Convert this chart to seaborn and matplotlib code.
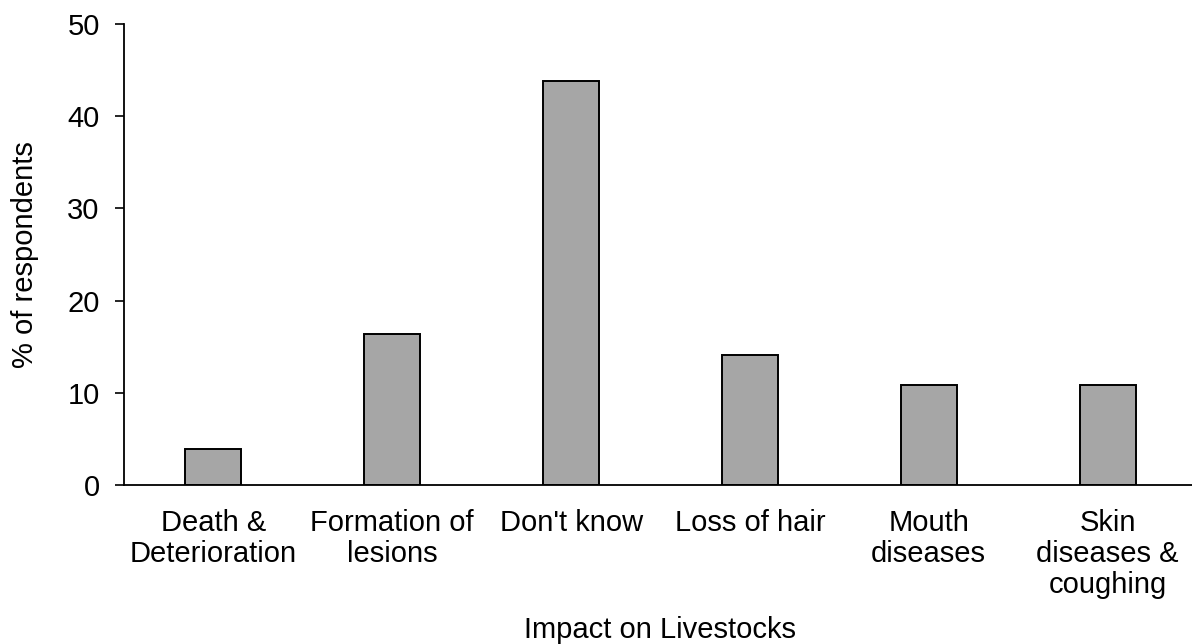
import numpy as np
import matplotlib
matplotlib.use("Agg")
import matplotlib.pyplot as plt
import seaborn as sns

# values
categories = ["Death &\nDeterioration", "Formation of\nlesions", "Don't know",
              "Loss of hair", "Mouth\ndiseases", "Skin\ndiseases &\ncoughing"]
percent = [3.9, 16.4, 43.8, 14.1, 10.9, 10.9]
y_ticks = [0, 10, 20, 30, 40, 50]

sns.set_style("white")
plt.rcParams['font.family'] = ['Liberation Sans', 'DejaVu Sans']
plt.rcParams['text.color'] = 'black'
plt.rcParams['axes.labelcolor'] = 'black'

fig = plt.figure(figsize=(11.92, 6.44), dpi=100)
ax = fig.add_axes([124 / 1192, 1 - 485 / 644, 1073 / 1192, 461 / 644])

sns.barplot(x=categories, y=percent, color="#A6A6A6", edgecolor="black",
            linewidth=1.4, width=0.313, saturation=1, ax=ax)

ax.set_xlim(-0.5, 5.5)
ax.set_ylim(0, 50)
ax.set_yticks(y_ticks)
sns.despine(ax=ax)
for side in ["left", "bottom"]:
    ax.spines[side].set_linewidth(1.3)
    ax.spines[side].set_color("black")

ax.tick_params(axis="y", direction="out", length=6.5, width=1.2, pad=11,
               labelsize=21, colors="black", left=True)
ax.tick_params(axis="x", length=0, pad=17, labelsize=21, colors="black")
for lab in ax.get_xticklabels():
    lab.set_linespacing(1.15)

ax.set_xlabel("Impact on Livestocks", fontsize=21, color="black")
ax.set_ylabel("% of respondents", fontsize=21, color="black")
ax.xaxis.set_label_coords(0.5, -0.285)
ax.yaxis.set_label_coords(-0.079, 0.5)

fig.savefig("out.png", dpi=100)
